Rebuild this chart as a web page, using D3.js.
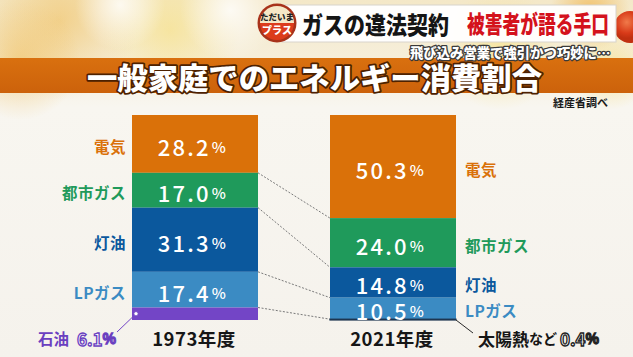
<!DOCTYPE html>
<html><head><meta charset="utf-8">
<script src="https://cdn.jsdelivr.net/npm/d3@7"></script>
<style>
html,body{margin:0;padding:0;background:#f6f3ec;overflow:hidden}
svg{display:block}
</style></head>
<body>
<svg id="c" width="633" height="357"></svg>
<script>
// ---- data ----
const years = ["1973年度", "2021年度"];
const categories = ["電気", "都市ガス", "灯油", "LPガス", "その他"];
const otherLabels = ["石油", "太陽熱など"];
const values1973 = [28.2, 17.0, 31.3, 17.4, 6.1];
const values2021 = [50.3, 24.0, 14.8, 10.5, 0.4];
const colors = ["#da7109", "#1f9a5b", "#0b589d", "#3b8bc3", "#7345c6"];
const otherColor2021 = "#1d3550";
const titleText = "一般家庭でのエネルギー消費割合";
const headlineA = "ガスの違法契約";
const headlineB = "被害者が語る手口";
const subtitle = "飛び込み営業で強引かつ巧妙に…";
const sourceText = "経産省調べ";

const W = 633, H = 357;
const svg = d3.select("#c");
const defs = svg.append("defs");
const JP = "'Noto Sans CJK JP','Noto Sans',sans-serif";

// ---- background ----
const bg = defs.append("linearGradient").attr("id","bg").attr("x1",0).attr("y1",0).attr("x2",0).attr("y2",1);
bg.append("stop").attr("offset","0").attr("stop-color","#f4e8c8");
bg.append("stop").attr("offset","0.18").attr("stop-color","#f6efdc");
bg.append("stop").attr("offset","0.3").attr("stop-color","#f8f6f0");
bg.append("stop").attr("offset","1").attr("stop-color","#f5f2ec");
svg.append("rect").attr("width",W).attr("height",H).attr("fill","url(#bg)");

function blob(id, c, o){
  const g = defs.append("radialGradient").attr("id",id);
  g.append("stop").attr("offset","0").attr("stop-color",c).attr("stop-opacity",o);
  g.append("stop").attr("offset","1").attr("stop-color",c).attr("stop-opacity",0);
}
blob("b1","#f0c060",0.6);
blob("b2","#f7e080",0.6);
blob("b3","#ffffff",0.8);
blob("b4","#f0b040",0.7);
[[60,20,80,"b1"],[170,30,70,"b2"],[20,60,60,"b1"],[230,10,50,"b3"],[120,5,45,"b3"],[590,12,40,"b4"],[500,50,60,"b2"],[610,70,40,"b2"]]
  .forEach(([x,y,r,id]) => svg.append("circle").attr("cx",x).attr("cy",y).attr("r",r).attr("fill",`url(#${id})`));

// red sphere top right
const sph = defs.append("radialGradient").attr("id","sph").attr("cx","0.4").attr("cy","0.35");
sph.append("stop").attr("offset","0").attr("stop-color","#f07a4a");
sph.append("stop").attr("offset","0.7").attr("stop-color","#d83a18");
sph.append("stop").attr("offset","1").attr("stop-color","#c03010");
svg.append("circle").attr("cx",630).attr("cy",27).attr("r",16).attr("fill","url(#sph)");

// headline box
svg.append("rect").attr("x",282).attr("y",5).attr("width",334).attr("height",37)
  .attr("fill","#ffffff").attr("fill-opacity",0.95).attr("stroke","#d8d4cc").attr("stroke-width",1);

// logo
const lg = svg.append("g").attr("transform","translate(277,23)");
lg.append("circle").attr("r",19.5).attr("fill","#a8321a");
lg.append("path").attr("d", d3.arc()({innerRadius:0,outerRadius:17,startAngle:-Math.PI/2,endAngle:Math.PI/2}))
  .attr("fill","#f5e7c6");
lg.append("path").attr("d", d3.arc()({innerRadius:0,outerRadius:17,startAngle:Math.PI/2,endAngle:Math.PI*1.5}))
  .attr("fill","#dc3c1c");
lg.append("text").attr("y",-3).attr("text-anchor","middle").attr("font-family",JP).attr("font-weight",900)
  .attr("font-size",8.5).attr("fill","#222").text("ただいま");
lg.append("text").attr("y",11).attr("text-anchor","middle").attr("font-family",JP).attr("font-weight",900)
  .attr("font-size",10).attr("fill","#fff").text("プラス");

svg.append("text").attr("transform","translate(302,23) scale(0.875,1)").attr("dominant-baseline","central")
  .attr("font-family",JP).attr("font-weight",900).attr("font-size",24).attr("fill","#151515")
  .text(headlineA);
svg.append("text").attr("transform","translate(467,23) scale(0.74,1)").attr("dominant-baseline","central")
  .attr("font-family",JP).attr("font-weight",900).attr("font-size",24).attr("fill","#d4121c")
  .text(headlineB);

// title band
const band = defs.append("linearGradient").attr("id","band").attr("x1",0).attr("y1",0).attr("x2",0).attr("y2",1);
band.append("stop").attr("offset","0").attr("stop-color","#d9700f");
band.append("stop").attr("offset","1").attr("stop-color","#cc620b");
svg.append("rect").attr("x",0).attr("y",58).attr("width",W).attr("height",35).attr("fill","url(#band)");

// subtitle
svg.append("text").attr("transform","translate(410,52) scale(0.99,1)").attr("dominant-baseline","central")
  .attr("font-family",JP).attr("font-weight",900).attr("font-size",13.5)
  .attr("fill","#fff").attr("stroke","#3a3a3a").attr("stroke-width",2.5).attr("paint-order","stroke")
  .attr("stroke-linejoin","round")
  .text(subtitle);

// title
svg.append("text").attr("x",87).attr("y",76).attr("dominant-baseline","central")
  .attr("font-family",JP).attr("font-weight",900).attr("font-size",30)
  .attr("fill","#fff").attr("stroke","#4d2100").attr("stroke-width",3.5).attr("paint-order","stroke")
  .attr("stroke-linejoin","round")
  .attr("textLength",455).attr("lengthAdjust","spacingAndGlyphs").text(titleText);

svg.append("text").attr("x",608).attr("y",102).attr("text-anchor","end").attr("dominant-baseline","central")
  .attr("font-family",JP).attr("font-weight",700).attr("font-size",11).attr("fill","#1a1a1a").text(sourceText);

// ---- chart ----
const x = d3.scaleBand().domain(years).range([132, 456]).paddingInner(72/198).paddingOuter(0);
const y = d3.scaleLinear().domain([0, 100]).range([115, 320]);

// per-year cumulative segments (top-down)
function segs(vals){
  let acc = 0;
  return vals.map((v, i) => { const s = {i, v, y0: acc, y1: acc + v}; acc += v; return s; });
}
const series = [segs(values1973), segs(values2021)];

// connectors
const cg = svg.append("g");
for (let i = 0; i < 4; i++) {
  cg.append("line")
    .attr("x1", x(years[0]) + x.bandwidth()).attr("y1", y(series[0][i].y1))
    .attr("x2", x(years[1])).attr("y2", y(series[1][i].y1))
    .attr("stroke","#7a7a7a").attr("stroke-width",1).attr("stroke-dasharray","2,1.6");
}

years.forEach((yr, k) => {
  const g = svg.append("g");
  g.selectAll("rect").data(series[k]).join("rect")
    .attr("x", x(yr)).attr("width", x.bandwidth())
    .attr("y", d => y(d.y0)).attr("height", d => y(d.y1) - y(d.y0))
    .attr("fill", d => (k === 1 && d.i === 4) ? otherColor2021 : colors[d.i])
    .attr("stroke", d => (k === 1 && d.i === 4) ? otherColor2021 : "none")
    .attr("stroke-width", 1.2);
  // value labels
  g.selectAll("text.v").data(series[k].filter(d => d.i < 4)).join("text")
    .attr("class","v")
    .attr("x", x(yr) + x.bandwidth()/2 - 2)
    .attr("y", d => (y(d.y0) + y(d.y1))/2 + 2)
    .attr("text-anchor","middle").attr("dominant-baseline","central")
    .attr("font-family",JP).attr("font-weight",500)
    .attr("fill","#fff").attr("letter-spacing",2.2)
    .each(function(d){
      const t = d3.select(this);
      t.append("tspan").attr("font-size",22).text(d.v.toFixed(1));
      t.append("tspan").attr("font-size",15).attr("dx",1).text("%");
    });
  // category labels
  g.selectAll("text.c").data(series[k].filter(d => d.i < 4)).join("text")
    .attr("class","c")
    .attr("x", k === 0 ? x(yr) - 6 : x(yr) + x.bandwidth() + 9)
    .attr("y", d => (y(d.y0) + y(d.y1))/2 + 2)
    .attr("text-anchor", k === 0 ? "end" : "start").attr("dominant-baseline","central")
    .attr("font-family",JP).attr("font-weight",700).attr("font-size",15.5)
    .attr("letter-spacing",0.5)
    .attr("fill", d => colors[d.i]).text(d => categories[d.i]);
  // year labels
  g.append("text").attr("x", x(yr) + x.bandwidth()/2 - 1).attr("y", 338)
    .attr("text-anchor","middle").attr("dominant-baseline","central")
    .attr("font-family",JP).attr("font-weight",700).attr("font-size",18.5).attr("fill","#161616")
    .attr("letter-spacing",0.5).text(yr);
});

// 石油 label (1973 other)
const oil = series[0][4];
const oilY = (y(oil.y0) + y(oil.y1))/2;
svg.append("line").attr("x1",117).attr("y1",332).attr("x2",x(years[0]) + 4).attr("y2",oilY)
  .attr("stroke","#7345c6").attr("stroke-width",1);
svg.append("circle").attr("cx",x(years[0]) + 4).attr("cy",oilY).attr("r",2.2)
  .attr("fill","#fff").attr("stroke","#7345c6").attr("stroke-width",1);
svg.append("text").attr("x",38).attr("y",338).attr("dominant-baseline","central")
  .attr("font-family",JP).attr("font-weight",700).attr("font-size",15.5).attr("fill","#6a3fc0")
  .text(otherLabels[0]);
svg.append("text").attr("x",77).attr("y",338).attr("dominant-baseline","central")
  .attr("font-family",JP).attr("font-weight",700).attr("fill","#fff")
  .attr("stroke","#6a3fc0").attr("stroke-width",1.3).attr("paint-order","fill")
  .call(t => { t.append("tspan").attr("font-size",17).text(values1973[4].toFixed(1));
               t.append("tspan").attr("font-size",14).text("%"); });

// 太陽熱など label (2021 other)
const sol = series[1][4];
svg.append("line").attr("x1", x(years[1]) + x.bandwidth()).attr("y1", y(sol.y1))
  .attr("x2",473).attr("y2",333).attr("stroke","#2a2a2a").attr("stroke-width",1);
svg.append("text").attr("x",478).attr("y",338).attr("dominant-baseline","central")
  .attr("font-family",JP).attr("font-weight",700).attr("fill","#161616")
  .call(t => { t.append("tspan").attr("font-size",17).text("太陽熱");
               t.append("tspan").attr("font-size",14).text("など"); });
svg.append("text").attr("x",560).attr("y",338).attr("dominant-baseline","central")
  .attr("font-family",JP).attr("font-weight",700).attr("fill","#fff")
  .attr("stroke","#222").attr("stroke-width",1.3).attr("paint-order","fill")
  .call(t => { t.append("tspan").attr("font-size",17).text(values2021[4].toFixed(1));
               t.append("tspan").attr("font-size",14).text("%"); });
</script>
</body></html>
